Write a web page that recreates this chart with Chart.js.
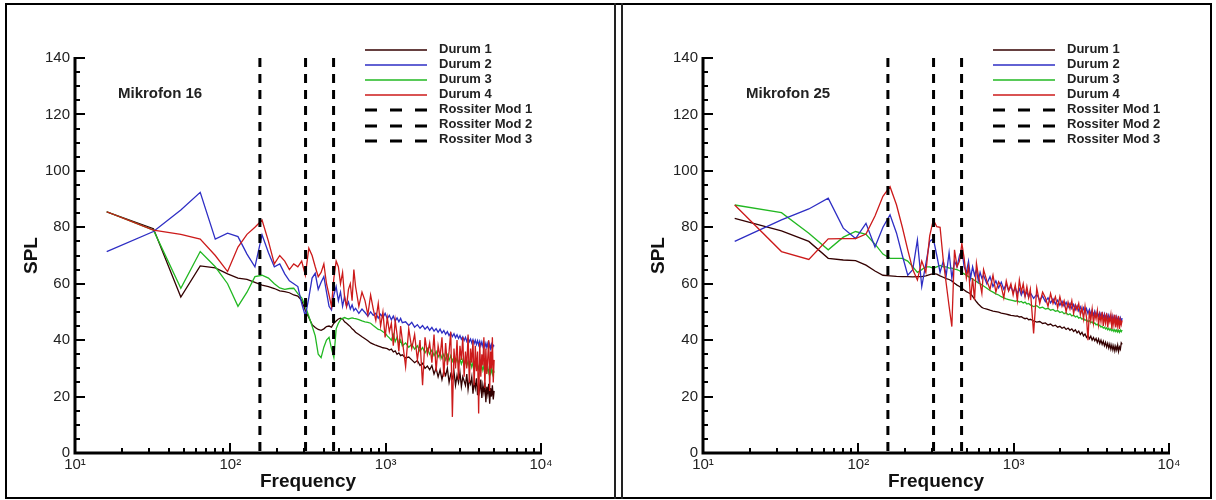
<!DOCTYPE html>
<html>
<head>
<meta charset="utf-8">
<script src="https://cdn.jsdelivr.net/npm/chart.js@4.4.0/dist/chart.umd.min.js"></script>
<style>
  body { margin: 0; background: #fff; width: 1216px; height: 500px; position: relative; overflow: hidden; }
  .panel { position: absolute; top: 0; width: 608px; height: 500px; }
  .frame { position: absolute; left: 5px; top: 3px; width: 1207px; height: 496px; border: 2px solid #000; box-sizing: border-box; pointer-events: none; }
  .divider { position: absolute; top: 3px; width: 2px; height: 496px; background: #222; pointer-events: none; }
</style>
</head>
<body>
<div class="panel" style="left:0"><canvas id="mic16"></canvas></div>
<div class="panel" style="left:608px"><canvas id="mic25"></canvas></div>
<div class="frame"></div>
<div class="divider" style="left:614px"></div>
<div class="divider" style="left:621px"></div>
<script>
// ---------------------------
// Data
// ---------------------------
const freq = [
  16, 32, 48, 64, 80, 96, 112, 128, 144, 160,
  176, 192, 208, 224, 240, 256, 272, 288, 304, 320,
  336, 352, 368, 384, 400, 416, 432, 448, 464, 480,
  496, 512, 528, 544, 560, 576, 592, 608, 624, 640,
  672, 704, 736, 768, 800, 832, 864, 896, 928, 960,
  992, 1024, 1056, 1088, 1120, 1152, 1184, 1216, 1248, 1280,
  1344, 1408, 1472, 1536, 1600, 1664, 1728, 1792, 1856, 1920,
  1984, 2048, 2112, 2176, 2240, 2304, 2368, 2432, 2496, 2560,
  2624, 2688, 2752, 2816, 2880, 2944, 3008, 3072, 3136, 3200,
  3264, 3328, 3392, 3456, 3520, 3584, 3648, 3712, 3776, 3840,
  3904, 3968, 4032, 4096, 4160, 4224, 4288, 4352, 4416, 4480,
  4544, 4608, 4672, 4736, 4800, 4864, 4928, 4992
];

// Mikrofon 16
const mic16Durum1 = [
  85.5, 79.5, 55.3, 66.3, 65.6, 63.5, 62.0, 61.5, 60.5, 59.5,
  59.0, 58.3, 57.5, 57.2, 56.8, 56.0, 55.6, 54.0, 50.5, 48.0,
  45.5, 44.5, 43.8, 43.5, 44.0, 44.8, 45.0, 44.6, 46.0, 46.8,
  47.5, 47.8, 47.5, 46.5, 46.0, 45.4, 44.8, 44.0, 43.5, 42.8,
  42.0, 41.2, 40.5, 39.8, 39.0, 38.6, 38.2, 37.9, 37.6, 37.3,
  37.2, 37.0, 36.5, 36.8, 35.8, 36.2, 35.0, 35.5, 34.5, 34.8,
  33.7, 34.0, 33.0, 32.0, 32.8, 31.0, 31.8, 30.0, 30.8, 29.5,
  31.0, 28.0, 30.0, 27.0, 29.5, 26.0, 29.0, 27.5, 30.0, 25.0,
  28.0, 26.5, 29.0, 24.0, 27.5, 25.0, 28.5, 23.5, 27.0, 25.5,
  24.0, 28.0, 22.5, 26.0, 24.5, 27.0, 21.0, 25.5, 23.0, 26.5,
  20.5, 25.0, 22.0, 26.0, 19.5, 24.0, 21.5, 25.0, 18.0, 23.5,
  21.0, 24.5, 17.5, 23.0, 20.0, 24.0, 19.0, 22.0
];
const mic16Durum2 = [
  71.4, 78.5, 86.1, 92.4, 75.8, 77.9, 76.7, 70.5, 66.0, 77.3,
  71.0, 66.0, 67.0, 63.5, 61.0, 60.0, 59.0, 53.0, 48.5, 55.0,
  62.0, 63.7, 58.0, 60.5, 62.5, 57.0, 52.0, 50.7, 56.0, 59.0,
  54.0, 57.0, 52.0, 55.5, 52.0, 53.5, 51.0, 52.5, 50.5, 51.3,
  49.5, 51.0, 49.8, 48.5, 50.0, 48.8, 49.5, 47.8, 49.2, 48.0,
  49.5, 47.6, 48.8, 47.2, 48.5, 46.8, 47.9, 46.5, 47.7, 46.2,
  46.5, 45.2, 46.3, 44.6, 45.5, 44.2, 45.2, 43.9, 44.8, 43.5,
  44.5, 43.2, 44.1, 42.8, 43.9, 42.5, 43.4, 42.1, 43.0, 41.6,
  42.6, 41.3, 42.3, 40.9, 41.9, 40.6, 41.6, 40.3, 41.2, 39.9,
  41.0, 39.6, 40.7, 39.4, 40.4, 39.0, 40.2, 38.8, 40.0, 38.5,
  39.8, 38.3, 39.6, 38.0, 39.4, 37.9, 39.2, 37.6, 38.9, 37.4,
  38.8, 37.2, 38.6, 37.0, 38.4, 36.8, 38.2, 37.8
];
const mic16Durum3 = [
  85.5, 79.0, 58.4, 71.4, 66.0, 60.0, 52.0, 57.0, 62.5, 63.0,
  62.0, 60.0, 58.5, 58.0, 58.3, 58.4, 56.5, 55.0, 52.0, 48.5,
  45.0, 41.5, 35.0, 33.8, 37.5, 40.0, 41.0, 37.0, 33.8, 44.0,
  46.0, 47.2, 47.7, 48.0, 47.7, 47.5, 47.7, 47.9, 47.7, 47.6,
  47.3, 46.8, 46.5, 46.3, 46.0, 45.2, 44.5, 43.8, 43.6, 43.0,
  42.5, 41.5, 40.8, 40.0, 42.0, 39.5, 41.0, 38.6, 40.0, 38.0,
  39.0, 37.5, 38.5, 36.8, 38.0, 36.0, 37.4, 35.5, 37.0, 35.0,
  36.5, 34.5, 36.0, 34.0, 35.5, 33.5, 35.0, 33.0, 34.8, 32.8,
  34.5, 32.5, 34.0, 32.0, 33.6, 31.8, 33.3, 31.5, 33.0, 31.2,
  32.8, 31.0, 32.5, 30.6, 32.2, 30.4, 32.0, 30.2, 31.8, 30.0,
  31.5, 29.8, 31.3, 29.5, 31.0, 29.3, 30.8, 29.0, 30.5, 28.8,
  30.3, 28.5, 30.0, 28.3, 29.8, 28.0, 29.5, 28.5
];
const mic16Durum4 = [
  85.5, 79.0, 77.5, 75.8, 70.0, 64.3, 73.0, 77.5, 80.0, 82.6,
  75.0, 67.0, 70.0, 68.0, 65.0, 67.0, 66.0, 68.0, 63.0, 72.6,
  70.0, 66.0, 62.5, 64.0, 67.0, 60.0, 56.0, 52.0, 62.0, 68.0,
  66.0, 60.0, 64.0, 55.0, 52.0, 58.0, 60.0, 54.0, 65.0, 59.0,
  52.0, 57.0, 54.0, 49.0, 56.0, 51.0, 47.0, 53.0, 45.0, 50.0,
  41.0, 48.0, 43.0, 46.0, 38.0, 47.0, 42.0, 36.0, 45.0, 40.0,
  30.6, 44.0, 37.0, 42.0, 33.0, 40.0, 24.0, 41.0, 35.0, 39.0,
  32.0, 42.0, 29.0, 38.0, 34.0, 41.0, 27.0, 39.0, 31.0, 36.0,
  43.0, 12.8, 37.0, 30.0, 40.0, 26.0, 38.0, 33.0, 41.0, 27.0,
  36.0, 30.0, 42.0, 25.0, 37.0, 32.0, 40.0, 24.0, 38.0, 29.0,
  36.0, 14.0, 39.0, 27.0, 35.0, 31.0, 41.0, 23.0, 37.0, 28.0,
  34.0, 40.0, 22.0, 36.0, 30.0, 41.0, 25.0, 33.0
];

// Mikrofon 25
const mic25Durum1 = [
  83.2, 78.7, 75.0, 69.0, 68.4, 68.2, 66.6, 64.5, 63.0, 62.8,
  62.6, 62.5, 62.5, 62.4, 62.5, 62.5, 62.8, 63.2, 63.6, 63.4,
  62.8, 62.3, 61.8, 61.5, 61.0, 60.2, 59.5, 59.0, 58.4, 57.8,
  57.2, 56.8, 56.4, 55.5, 54.5, 53.6, 52.8, 52.2, 51.6, 51.3,
  51.0, 50.6, 50.3, 50.1, 49.9, 49.6, 49.4, 49.2, 49.0, 48.8,
  48.7, 48.5, 48.6, 48.2, 48.3, 47.9, 47.6, 47.8, 47.2, 47.4,
  46.8, 46.4, 46.6, 45.9, 46.1, 45.4, 45.7, 45.0, 45.3, 44.6,
  44.9, 44.2, 44.6, 43.8, 44.3, 43.5, 44.0, 43.1, 43.7, 42.6,
  43.2, 42.0, 42.8, 41.5, 42.2, 41.0, 41.8, 40.5, 41.4, 40.0,
  40.9, 39.8, 40.6, 39.2, 40.4, 38.8, 40.0, 38.5, 39.6, 38.0,
  39.2, 37.6, 38.9, 37.2, 38.6, 36.8, 38.3, 36.5, 38.0, 36.2,
  37.8, 36.5, 38.2, 36.0, 37.6, 36.8, 39.0, 38.5
];
const mic25Durum2 = [
  75.0, 82.6, 86.5, 90.3, 79.7, 76.0, 81.4, 73.0, 80.0, 84.4,
  78.0, 70.0, 63.0, 65.0, 75.5, 59.0, 67.0, 75.0, 76.0, 70.0,
  64.0, 68.0, 63.0, 71.0, 62.0, 68.0, 66.0, 70.0, 72.0, 66.0,
  64.0, 68.0, 62.0, 66.0, 63.0, 65.0, 61.0, 64.0, 62.0, 63.0,
  60.0, 62.5, 59.0, 61.0, 58.5, 60.5, 58.0, 59.8, 57.5, 59.0,
  57.0, 58.6, 56.5, 58.2, 56.0, 57.6, 55.6, 57.2, 55.2, 56.8,
  54.8, 56.2, 54.2, 55.6, 53.6, 55.0, 53.2, 54.6, 52.8, 54.2,
  52.4, 53.8, 52.0, 53.4, 51.6, 53.0, 51.2, 52.6, 50.8, 52.2,
  50.4, 51.8, 50.0, 51.5, 49.7, 51.2, 49.4, 50.9, 49.1, 50.6,
  48.8, 50.3, 48.6, 50.0, 48.4, 49.7, 48.2, 49.5, 48.0, 49.3,
  47.8, 49.1, 47.6, 48.9, 47.4, 48.7, 47.2, 48.5, 47.0, 48.3,
  46.9, 48.2, 46.8, 48.0, 46.7, 47.9, 46.6, 47.8
];
const mic25Durum3 = [
  87.9, 85.2, 77.9, 72.0, 76.5, 78.5, 77.5, 74.0, 70.5, 69.0,
  69.0, 69.0, 68.0, 66.0, 64.0, 65.0, 66.0, 66.0, 65.5, 66.0,
  66.5, 66.0, 66.0, 65.5, 65.5, 65.2, 65.0, 64.6, 64.0, 63.5,
  63.0, 62.5, 62.0, 61.6, 61.2, 60.8, 60.3, 60.0, 59.6, 59.2,
  58.4, 57.6, 57.0, 56.4, 56.0, 55.4, 55.0, 54.6, 54.4, 54.2,
  54.0, 53.8, 54.0, 53.5, 53.7, 53.2, 53.5, 52.8, 53.0, 52.5,
  51.9, 52.2, 51.4, 51.7, 51.0, 51.3, 50.6, 50.9, 50.2, 50.5,
  49.8, 50.1, 49.4, 49.7, 49.0, 49.3, 48.6, 48.9, 48.2, 48.5,
  47.8, 48.1, 47.4, 47.7, 47.0, 47.3, 46.6, 46.9, 46.2, 46.5,
  45.8, 46.1, 45.4, 45.7, 45.0, 45.3, 44.6, 44.9, 44.3, 44.6,
  44.0, 44.4, 43.7, 44.2, 43.5, 44.0, 43.3, 43.8, 43.1, 43.7,
  43.0, 43.6, 42.9, 43.5, 42.8, 43.6, 43.0, 43.6
];
const mic25Durum4 = [
  87.9, 71.4, 68.6, 75.9, 76.0, 76.0, 77.6, 84.0, 91.0, 94.4,
  88.0, 80.0, 72.0, 65.0, 61.3, 68.0, 64.0, 77.0, 82.6, 80.2,
  80.0, 68.4, 60.0, 52.0, 44.8, 72.0, 66.0, 68.0, 74.3, 69.0,
  62.0, 66.0, 54.2, 62.0, 54.2, 67.2, 63.0, 60.0, 56.6, 65.0,
  61.0, 58.0, 63.0, 57.0, 60.7, 59.0, 55.0, 61.0, 57.5, 60.0,
  56.0, 59.5, 54.0, 61.3, 57.0, 60.0, 55.5, 59.0, 55.0, 58.0,
  42.4, 58.5, 53.0, 57.0, 55.0, 52.0, 56.5, 53.0, 55.4, 51.5,
  55.4, 52.0, 54.0, 50.0, 53.5, 51.0, 54.0, 49.5, 52.5, 50.7,
  53.0, 49.0, 51.5, 47.5, 52.0, 48.0, 40.0, 50.5, 47.0, 51.0,
  46.0, 49.5, 47.5, 50.5, 45.5, 49.0, 46.5, 50.0, 45.0, 48.5,
  46.0, 49.5, 44.5, 48.0, 46.5, 49.0, 44.0, 48.0, 45.5, 49.0,
  44.5, 47.5, 45.0, 48.5, 44.0, 47.0, 45.5, 47.0
];

// Rossiter mode frequencies (Hz), same for both microphones
const rossiterModes = [155, 305, 462];

const seriesNames = ["Durum 1", "Durum 2", "Durum 3", "Durum 4"];
const modeNames = ["Rossiter Mod 1", "Rossiter Mod 2", "Rossiter Mod 3"];

// Axis ticks
const xDecades = [10, 100, 1000, 10000];
const xDecadeLabels = ["10\u00B9", "10\u00B2", "10\u00B3", "10\u2074"];
const xMinorTicks = [20, 30, 40, 50, 60, 70, 80, 90, 200, 300, 400, 500, 600, 700, 800, 900, 2000, 3000, 4000, 5000, 6000, 7000, 8000, 9000];
const yTicks = [0, 20, 40, 60, 80, 100, 120, 140];
const yMinorTicks = [5, 10, 15, 25, 30, 35, 45, 50, 55, 65, 70, 75, 85, 90, 95, 105, 110, 115, 125, 130, 135];

// ---------------------------
// Styles
// ---------------------------
const FONT = '"Liberation Sans", Arial, Helvetica, sans-serif';
const lineColors = ["#330000", "#2e2ec4", "#22b822", "#cc1a1a"];
const drawOrder = [4, 2, 3, 1];   // lower = drawn on top
const modeDash = [9, 7];
const legendDash = [12, 13];

Chart.defaults.font.family = FONT;

function buildDatasets(values) {
    const sets = values.map((vals, i) => ({
        label: seriesNames[i],
        data: freq.map((f, k) => ({ x: f, y: vals[k] })),
        borderColor: lineColors[i],
        borderWidth: 1.3,
        pointRadius: 0,
        tension: 0,
        order: drawOrder[i]
    }));
    rossiterModes.forEach((f, i) => {
        sets.push({
            label: modeNames[i],
            data: [{ x: f, y: 140 }, { x: f, y: 0 }],
            borderColor: "#000",
            borderWidth: 3,
            borderDash: modeDash,
            pointRadius: 0,
            order: 0
        });
    });
    return sets;
}

// ---------------------------
// Axes, inward ticks, legend, panel label
// ---------------------------
const panelDecor = {
    id: "panelDecor",
    afterDatasetsDraw(chart, args, opts) {
        const { ctx, chartArea: a, scales: { x, y } } = chart;
        ctx.save();
        ctx.strokeStyle = "#000";

        // tick marks (inside the plot)
        ctx.lineWidth = 2;
        ctx.beginPath();
        xMinorTicks.forEach(v => {
            const px = Math.round(x.getPixelForValue(v));
            ctx.moveTo(px, a.bottom); ctx.lineTo(px, a.bottom - 5);
        });
        xDecades.forEach(v => {
            const px = Math.round(x.getPixelForValue(v));
            ctx.moveTo(px, a.bottom); ctx.lineTo(px, a.bottom - 10);
        });
        yMinorTicks.forEach(v => {
            const py = Math.round(y.getPixelForValue(v));
            ctx.moveTo(a.left, py); ctx.lineTo(a.left + 5, py);
        });
        yTicks.forEach(v => {
            const py = Math.round(y.getPixelForValue(v));
            ctx.moveTo(a.left, py); ctx.lineTo(a.left + 10, py);
        });
        ctx.stroke();

        // axis lines
        ctx.lineWidth = 3;
        ctx.beginPath();
        ctx.moveTo(a.left, a.top - 1);
        ctx.lineTo(a.left, a.bottom);
        ctx.lineTo(a.right + 1, a.bottom);
        ctx.stroke();

        // microphone label
        ctx.fillStyle = "#222";
        ctx.textBaseline = "middle";
        ctx.textAlign = "left";
        ctx.font = "bold 15px " + FONT;
        ctx.fillText(opts.label, a.left + 43, a.top + 36);

        // legend
        ctx.font = "bold 13px " + FONT;
        chart.data.datasets.forEach((ds, i) => {
            const yy = a.top - 9 + i * 15.1;
            const dashed = !!ds.borderDash;
            ctx.beginPath();
            ctx.strokeStyle = ds.borderColor;
            ctx.lineWidth = dashed ? 3 : 1.3;
            ctx.setLineDash(dashed ? legendDash : []);
            const ly = Math.round(yy + 1);
            ctx.moveTo(a.left + 290, ly);
            ctx.lineTo(a.left + 352, ly);
            ctx.stroke();
            ctx.setLineDash([]);
            ctx.fillStyle = "#222";
            ctx.fillText(ds.label, a.left + 364, yy);
        });
        ctx.restore();
    }
};

function makeChart(canvasId, values, label, yAxisWidth, rightPad, titlePad) {
    const ctx = document.getElementById(canvasId).getContext("2d");
    return new Chart(ctx, {
        type: "line",
        data: { datasets: buildDatasets(values) },
        options: {
            responsive: true,
            maintainAspectRatio: false,
            animation: false,
            layout: { padding: { left: 0, right: rightPad, top: 58, bottom: 0 } },
            plugins: {
                legend: { display: false },
                tooltip: { enabled: false },
                panelDecor: { label: label }
            },
            scales: {
                x: {
                    type: "logarithmic",
                    min: 10,
                    max: 10000,
                    afterFit: s => { s.height = 47; },
                    afterBuildTicks: s => { s.ticks = xDecades.map(v => ({ value: v })); },
                    grid: { display: false, drawTicks: false },
                    border: { display: false },
                    ticks: {
                        padding: 3,
                        maxRotation: 0,
                        autoSkip: false,
                        color: "#222",
                        font: { size: 15 },
                        callback: v => xDecadeLabels[xDecades.indexOf(v)]
                    },
                    title: {
                        display: true,
                        text: "Frequency",
                        color: "#111",
                        font: { size: 19, weight: "bold" },
                        padding: { top: 0, bottom: 7 }
                    }
                },
                y: {
                    type: "linear",
                    min: 0,
                    max: 140,
                    afterFit: s => { s.width = yAxisWidth; },
                    afterBuildTicks: s => { s.ticks = yTicks.map(v => ({ value: v })); },
                    grid: { display: false, drawTicks: false },
                    border: { display: false },
                    ticks: { padding: 5, color: "#222", font: { size: 15 } },
                    title: {
                        display: true,
                        text: "SPL",
                        color: "#111",
                        font: { size: 19, weight: "bold" },
                        padding: { top: titlePad, bottom: 0 }
                    }
                }
            }
        },
        plugins: [panelDecor]
    });
}

makeChart("mic16", [mic16Durum1, mic16Durum2, mic16Durum3, mic16Durum4], "Mikrofon 16", 75, 67, 20);
makeChart("mic25", [mic25Durum1, mic25Durum2, mic25Durum3, mic25Durum4], "Mikrofon 25", 95, 47, 39);
</script>
</body>
</html>
